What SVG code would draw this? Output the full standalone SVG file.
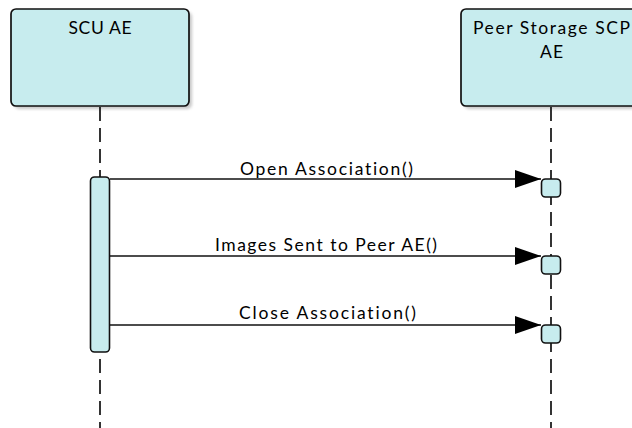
<svg xmlns="http://www.w3.org/2000/svg" width="632" height="428" viewBox="0 0 632 428">
  <style>
    .head { fill: #c7ecee; stroke: #111; stroke-width: 1.7; }
    .shadow { fill: #9a9a9a; opacity: 0.55; }
    .act { fill: #c7ecee; stroke: #111; stroke-width: 1.6; }
    .life { stroke: #111; stroke-width: 1.7; stroke-dasharray: 14 7; fill: none; }
    .msg { stroke: #111; stroke-width: 1.6; fill: none; }
    .lbl { font-family: "Lato", "Liberation Sans", sans-serif; font-size: 17.5px; fill: #000; font-variant-ligatures: none; font-feature-settings: "liga" 0; }
  </style>
  <defs>
    <filter id="blur" x="-10%" y="-10%" width="120%" height="120%">
      <feGaussianBlur stdDeviation="1.5"/>
    </filter>
    <marker id="arrow" markerUnits="userSpaceOnUse" markerWidth="27" markerHeight="18" refX="26" refY="9" orient="auto">
      <polygon points="0,0 26,9 0,18" fill="#000"/>
    </marker>
  </defs>
  <rect width="632" height="428" fill="#ffffff"/>

  <g id="scu-ae">
    <rect class="shadow" x="14" y="12" width="178" height="97" rx="5" filter="url(#blur)"/>
    <rect class="head" x="11" y="9" width="178" height="97" rx="5"/>
    <text class="lbl" x="100" y="34" text-anchor="middle" textLength="63">SCU AE</text>
    <line class="life" x1="100" y1="107" x2="100" y2="428"/>
    <rect class="act" x="90.5" y="177" width="19" height="175" rx="4"/>
  </g>

  <g id="peer-ae">
    <rect class="shadow" x="464" y="12" width="178" height="97" rx="5" filter="url(#blur)"/>
    <rect class="head" x="461" y="9" width="178" height="97" rx="5"/>
    <text class="lbl" x="551.5" y="34" text-anchor="middle" textLength="157">Peer Storage SCP</text>
    <text class="lbl" x="551.5" y="58" text-anchor="middle" textLength="23">AE</text>
    <line class="life" x1="551" y1="107" x2="551" y2="428"/>
    <rect class="act" x="541.5" y="179" width="19" height="18" rx="4"/>
    <rect class="act" x="541.5" y="256" width="19" height="18" rx="4"/>
    <rect class="act" x="541.5" y="325" width="19" height="18" rx="4"/>
  </g>

  <g id="connectors">
    <g id="msg-open">
      <line class="msg" x1="110" y1="179" x2="541" y2="179" marker-end="url(#arrow)"/>
      <text class="lbl" x="326.5" y="175" text-anchor="middle" textLength="173">Open Association()</text>
    </g>
    <g id="msg-images">
      <line class="msg" x1="110" y1="256" x2="541" y2="256" marker-end="url(#arrow)"/>
      <text class="lbl" x="326" y="251" text-anchor="middle" textLength="222">Images Sent to Peer AE()</text>
    </g>
    <g id="msg-close">
      <line class="msg" x1="110" y1="325" x2="541" y2="325" marker-end="url(#arrow)"/>
      <text class="lbl" x="327.5" y="319" text-anchor="middle" textLength="177">Close Association()</text>
    </g>
  </g>
</svg>
